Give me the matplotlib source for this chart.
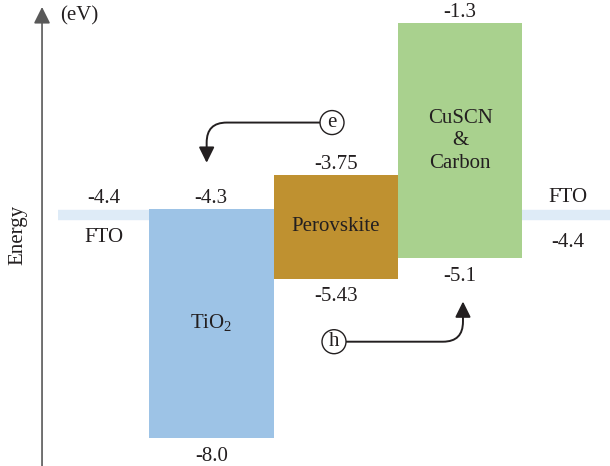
import numpy as np
import matplotlib.pyplot as plt

plt.rcParams['font.family'] = ['Liberation Serif', 'DejaVu Serif']
plt.rcParams['mathtext.fontset'] = 'custom'
plt.rcParams['mathtext.rm'] = 'Liberation Serif'

# energy levels (eV)
layers = ['TiO$_2$', 'Perovskite', 'CuSCN\n&\nCarbon']
cb = [-4.3, -3.75, -1.3]
vb = [-8.0, -5.43, -5.1]
cb_labels = ['-4.3', '-3.75', '-1.3']
vb_labels = ['-8.0', '-5.43', '-5.1']
colors = ['#9dc3e6', '#bf9130', '#a9d18e']
fto_level = -4.4
fto_label = '-4.4'

TXT = '#231f20'
FS = 15

fig = plt.figure(figsize=(6.1, 4.66), dpi=100)
ax = fig.add_axes([0, 0, 1, 1])
ax.set_xlim(-1.197, 3.703)
ax.set_ylim(-8.458, -0.930)
ax.axis('off')

# bands
x = np.arange(len(layers))
ax.bar(x, np.array(cb) - np.array(vb), bottom=vb, width=1.0, align='edge',
       color=colors, edgecolor='none')

for i in range(len(layers)):
    xc = x[i] + 0.5
    ax.annotate(cb_labels[i], xy=(xc, cb[i]), xytext=(0, 4), textcoords='offset points',
                ha='center', va='baseline', fontsize=FS, color=TXT)
    ax.annotate(vb_labels[i], xy=(xc, vb[i]), xytext=(0, -16.5), textcoords='offset points',
                ha='center', va='baseline', fontsize=FS, color=TXT)
    ax.text(xc, (cb[i] + vb[i]) / 2, layers[i], ha='center', va='center',
            fontsize=FS, color=TXT, linespacing=1.25)

# FTO contacts
fto_len = 0.73
ax.hlines(fto_level, -fto_len, 0, color='#deebf7', lw=7.5)
ax.hlines(fto_level, len(layers), len(layers) + fto_len, color='#deebf7', lw=7.5)
lx = -fto_len / 2
rx = len(layers) + fto_len / 2
ax.annotate(fto_label, xy=(lx, fto_level), xytext=(0, 8.5),
            textcoords='offset points', ha='center', va='baseline', fontsize=FS, color=TXT)
ax.annotate('FTO', xy=(lx, fto_level), xytext=(0, -19.5),
            textcoords='offset points', ha='center', va='baseline', fontsize=FS, color=TXT)
ax.annotate('FTO', xy=(rx, fto_level), xytext=(0, 9.5),
            textcoords='offset points', ha='center', va='baseline', fontsize=FS, color=TXT)
ax.annotate(fto_label, xy=(rx, fto_level), xytext=(0, -23.5),
            textcoords='offset points', ha='center', va='baseline', fontsize=FS, color=TXT)

# energy axis
ax.annotate('', xy=(0.0689, 0.985), xytext=(0.0689, 0.0), xycoords='axes fraction',
            arrowprops=dict(arrowstyle='-|>,head_length=1.0,head_width=0.5',
                            mutation_scale=10, color='#595959', lw=1.2,
                            shrinkA=0, shrinkB=0))
ax.text(0.098, 1 - 16 / 466, '(eV)', transform=ax.transAxes, ha='left', va='center',
        fontsize=FS, color=TXT)
ax.text(0.029, 0.496, 'Energy', transform=ax.transAxes, rotation=90,
        ha='center', va='center', fontsize=FS, color=TXT)

# charge transfer arrows
circ = dict(boxstyle='circle,pad=0.12', fc='white', ec='#231f20', lw=1.0)
arr = dict(arrowstyle='-|>,head_length=0.95,head_width=0.47', mutation_scale=10,
           color='#231f20', lw=1.4, shrinkA=0, shrinkB=0,
           connectionstyle='angle,angleA=0,angleB=90,rad=20')
# electron: perovskite CB -> TiO2 CB
ax.annotate('e', xy=(0.463, cb[0] + 0.74), xytext=(1.47, cb[1] + 0.84),
            ha='center', va='center', fontsize=FS, color=TXT, bbox=circ,
            arrowprops=arr)
# hole: perovskite VB -> CuSCN VB
ax.annotate('h', xy=(2.522, vb[2] - 0.70), xytext=(1.486, vb[1] - 1.02),
            ha='center', va='center', fontsize=FS, color=TXT, bbox=circ,
            arrowprops=arr)

fig.savefig('out.png', dpi=100)
